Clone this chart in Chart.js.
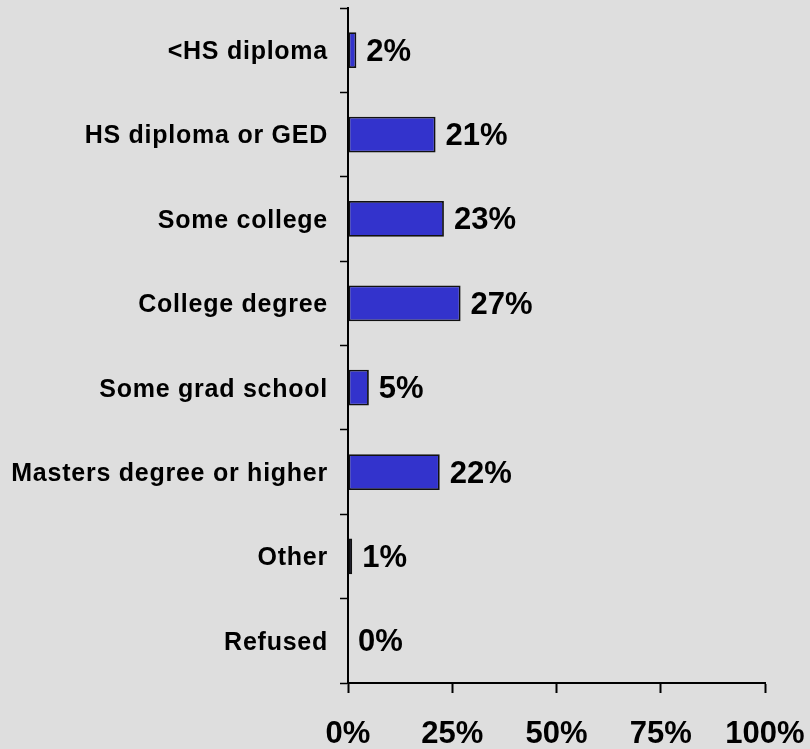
<!DOCTYPE html>
<html>
<head>
<meta charset="utf-8">
<script src="https://cdn.jsdelivr.net/npm/chart.js@4"></script>
<style>
  html, body { margin: 0; padding: 0; background: #dedede; }
  canvas { display: block; }
</style>
</head>
<body>
<canvas id="c" width="810" height="749"></canvas>
<script>
const categories = ['<HS diploma', 'HS diploma or GED', 'Some college', 'College degree',
                    'Some grad school', 'Masters degree or higher', 'Other', 'Refused'];
const shares = [2, 21, 23, 27, 5, 22, 1, 0];
const xTicks = [0, 25, 50, 75, 100];

const FONT = '"Liberation Sans", Arial, sans-serif';

// Writes "NN%" just past the end of each bar
const valueLabels = {
  id: 'valueLabels',
  afterDatasetsDraw(chart) {
    const ctx = chart.ctx;
    const meta = chart.getDatasetMeta(0);
    ctx.save();
    ctx.font = 'bold 31px ' + FONT;
    ctx.fillStyle = '#000';
    ctx.textAlign = 'left';
    ctx.textBaseline = 'middle';
    meta.data.forEach((bar, i) => {
      ctx.fillText(shares[i] + '%', bar.x + 10, bar.y + 2);
    });
    ctx.restore();
  }
};

// Slightly tracked-out category names on the vertical axis
const spacedCategoryLabels = {
  id: 'spacedCategoryLabels',
  afterLayout(chart) {
    const y = chart.scales.y;
    if (y._spaced) return;
    const orig = y.drawLabels;
    y.drawLabels = function (area) {
      const ctx = this.ctx;
      ctx.save();
      ctx.letterSpacing = '0.75px';
      orig.call(this, area);
      ctx.restore();
    };
    y._spaced = true;
  }
};

new Chart(document.getElementById('c'), {
  type: 'bar',
  data: {
    labels: categories,
    datasets: [{
      data: shares,
      backgroundColor: '#3333cc',
      borderColor: '#111',
      borderWidth: 1.8,
      borderSkipped: false,
      barPercentage: 0.85,
      categoryPercentage: 0.5
    }]
  },
  options: {
    indexAxis: 'y',
    responsive: false,
    animation: false,
    layout: { padding: { top: 8, right: 45, left: 0, bottom: 0 } },
    plugins: { legend: { display: false }, tooltip: { enabled: false } },
    scales: {
      x: {
        min: 0, max: 100,
        afterBuildTicks(axis) { axis.ticks = xTicks.map(v => ({ value: v })); },
        afterFit(axis) {
          axis.height = 66;
          axis.paddingLeft = 0;
          axis.paddingRight = 0;
        },
        grid: { drawOnChartArea: false, tickLength: 10, color: '#000', tickWidth: 2 },
        border: { color: '#000', width: 2 },
        ticks: {
          padding: 23,
          color: '#000',
          maxRotation: 0,
          autoSkip: false,
          font: { family: FONT, size: 31, weight: 'bold' },
          callback: v => v + '%'
        }
      },
      y: {
        afterFit(axis) {
          axis.width = 348;
          axis.paddingTop = 0;
          axis.paddingBottom = 0;
        },
        grid: { offset: true, drawOnChartArea: false, tickLength: 8, color: '#000', tickWidth: 1.5 },
        border: { color: '#000', width: 2 },
        ticks: {
          padding: 12,
          labelOffset: 2,
          color: '#000',
          font: { family: FONT, size: 25, weight: 'bold' }
        }
      }
    }
  },
  plugins: [valueLabels, spacedCategoryLabels]
});
</script>
</body>
</html>
